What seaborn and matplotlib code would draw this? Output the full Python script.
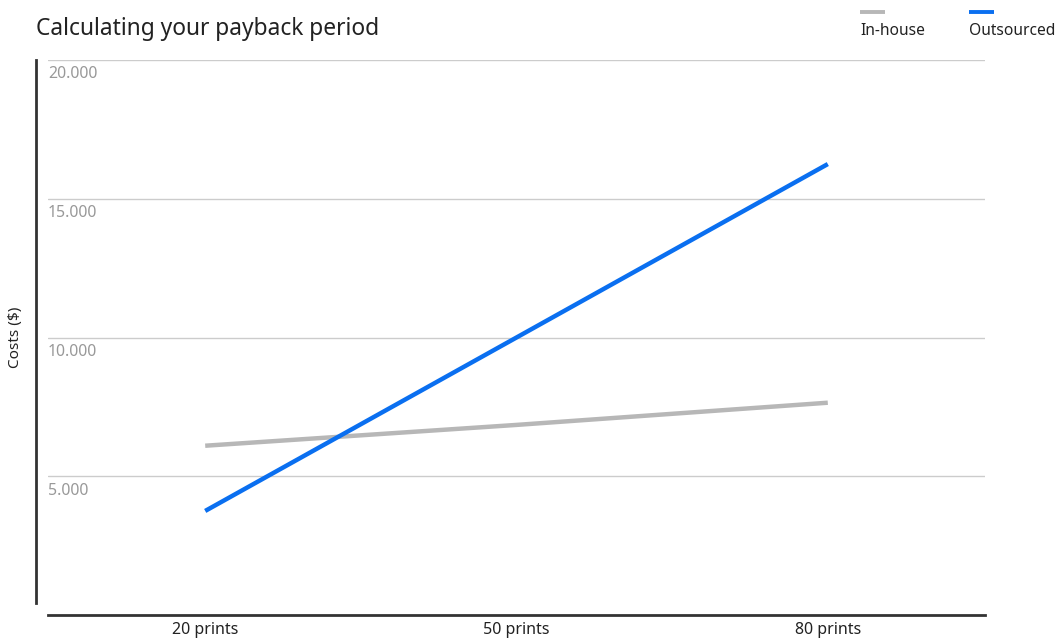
import pandas as pd
import numpy as np
import matplotlib.pyplot as plt
import seaborn as sns
from matplotlib.lines import Line2D

# chart data
categories = ['20 prints', '50 prints', '80 prints']
series_names = ['In-house', 'Outsourced']
inhouse_costs = [6100, 6850, 7650]
outsourced_costs = [3750, 10000, 16250]
y_ticks = [5000, 10000, 15000, 20000]
y_tick_labels = ['5.000', '10.000', '15.000', '20.000']
colors = ['#b7b7b7', '#0a6ff0']

df = pd.DataFrame({
    'category': categories * 2,
    'pos': list(range(len(categories))) * 2,
    'cost': inhouse_costs + outsourced_costs,
    'series': [series_names[0]] * 3 + [series_names[1]] * 3,
})

sns.set_theme(style='white')
plt.rcParams['font.family'] = ['Noto Sans', 'DejaVu Sans']

fig = plt.figure(figsize=(10.55, 6.42), dpi=100)
ax = fig.add_axes([48 / 1055, 1 - 615 / 642, 937 / 1055, 555 / 642])

sns.lineplot(data=df, x='pos', y='cost', hue='series', palette=colors,
             linewidth=3.2, legend=False, ax=ax)
for ln in ax.get_lines():
    ln.set_solid_capstyle('butt')

ax.set_xlim(-0.505, 2.505)
ax.set_ylim(0, 20000)

# gridlines
for t in y_ticks:
    ax.axhline(t, color='#cccccc', linewidth=1, zorder=0)
ax.set_yticks(y_ticks)
ax.set_yticklabels([])
ax.tick_params(axis='y', length=0)
for t, lab in zip(y_ticks, y_tick_labels):
    ax.text(0.0, t - 230, lab, transform=ax.get_yaxis_transform(),
            ha='left', va='top', fontsize=11.4, color='#999999')

ax.set_xticks(range(len(categories)))
ax.set_xticklabels(categories, fontsize=11.5, color='#222222')
ax.tick_params(axis='x', length=0, pad=5)
ax.set_xlabel('')
ax.set_ylabel('')
fig.text(16 / 1055, 1 - 337 / 642, 'Costs ($)', fontsize=11, color='#222222',
         rotation=90, ha='center', va='center')

for s in ['top', 'right']:
    ax.spines[s].set_visible(False)
ax.spines['bottom'].set_color('#333333')
ax.spines['bottom'].set_linewidth(2)
ax.spines['left'].set_color('#333333')
ax.spines['left'].set_linewidth(2)
ax.spines['left'].set_position(('outward', 8.6))
ax.spines['left'].set_bounds(430, 20000)

fig.text(36 / 1055, 1 - 29 / 642, 'Calculating your payback period',
         fontsize=16.4, color='#222222', ha='left', va='center')

# legend: short line above each label
leg_x = [860, 969]
for name, c, x in zip(series_names, colors, leg_x):
    fig.add_artist(Line2D([x / 1055, (x + 25) / 1055], [1 - 12 / 642, 1 - 12 / 642],
                          color=c, linewidth=2.8, solid_capstyle='butt',
                          transform=fig.transFigure))
    fig.text(x / 1055, 1 - 31 / 642, name, fontsize=11.2, color='#222222',
             ha='left', va='center')

fig.savefig('out.png', dpi=100)
